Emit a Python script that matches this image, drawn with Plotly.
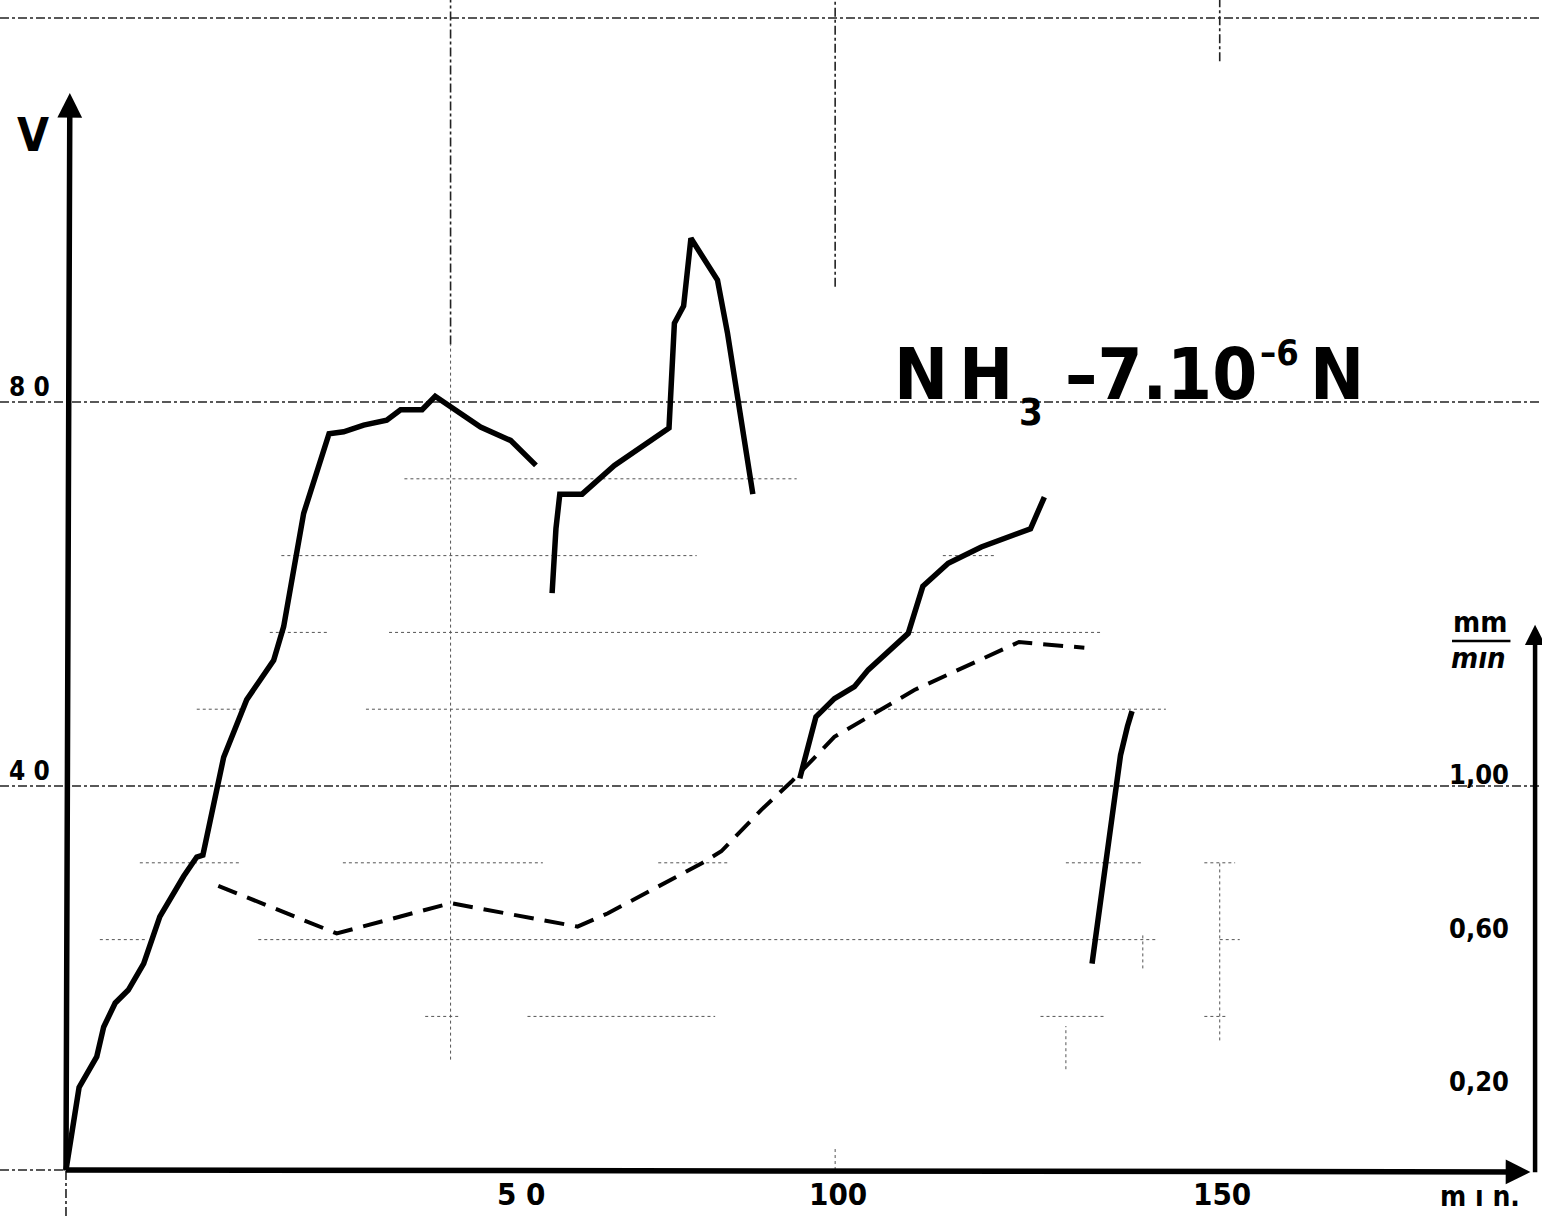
import plotly.graph_objects as go

# ---- measured series -------------------------------------------------------
# potential V (left scale) versus time in minutes, four separate solid runs
run1_t = [0, 1.7, 4.0, 4.9, 6.4, 8.1, 10.1, 12.2, 15.3, 17.0, 17.8, 20.1, 20.5,
          23.5, 27.0, 28.3, 29.6, 30.9, 34.2, 36.1, 38.7, 41.7, 43.5, 46.3,
          48.0, 53.9, 57.8, 61.1]
run1_v = [0, 8.6, 11.8, 14.9, 17.4, 18.75, 21.5, 26.4, 30.6, 32.6, 32.8, 41.9,
          43.0, 49.0, 53.1, 56.6, 62.8, 68.4, 76.7, 76.9, 77.6, 78.1, 79.2,
          79.2, 80.6, 77.4, 76.0, 73.4]

run2_t = [63.2, 63.7, 64.2, 67.1, 71.3, 74.7, 78.4, 79.1, 80.3, 81.25, 84.7,
          86.0, 89.3]
run2_v = [60.1, 66.8, 70.4, 70.4, 73.4, 75.2, 77.3, 88.2, 90.0, 97.05, 92.7,
          87.2, 70.4]

run3_t = [95.4, 97.5, 99.9, 102.5, 104.3, 109.5, 111.4, 114.7, 119.0, 125.4,
          127.2]
run3_v = [40.8, 47.2, 49.1, 50.35, 52.1, 55.9, 60.8, 63.2, 64.9, 66.8, 70.1]

run4_t = [133.4, 135.1, 137.1, 138.0, 138.6]
run4_v = [21.5, 31.9, 43.2, 46.2, 47.8]

# rate in mm/min (right scale), dashed curve
rate_t = [19.8, 35.2, 50.0, 66.5, 70.4, 76.5, 82.6, 85.2, 90.4, 94.3, 98.2,
          99.9, 110.3, 123.9, 132.4]
rate_v = [0.74, 0.616, 0.695, 0.634, 0.668, 0.733, 0.798, 0.83, 0.938, 1.011,
          1.09, 1.128, 1.25, 1.375, 1.36]

# tick labels
left_ticks = [80, 40]
left_tick_text = ["8 0", "4 0"]
bottom_ticks = [50, 100, 150]
bottom_tick_text = ["5 0", "100", "150"]
right_ticks = [1.00, 0.60, 0.20]
right_tick_text = ["1,00", "0,60", "0,20"]

# ---- scale layout ----------------------------------------------------------
X_RANGE = [-8.58, 191.9]
Y_RANGE = [-4.79, 121.875]
RATE_PER_V = 1 / 40.0          # 1 mm/min on the right scale == 40 V on the left
Y2_RANGE = [Y_RANGE[0] * RATE_PER_V, Y_RANGE[1] * RATE_PER_V]

FONT = "DejaVu Sans Condensed, Liberation Sans Narrow, DejaVu Sans, sans-serif"
INK = "#000000"

fig = go.Figure()

solid = dict(color=INK, width=5.5)
for t, v in [(run1_t, run1_v), (run2_t, run2_v), (run3_t, run3_v),
             (run4_t, run4_v)]:
    fig.add_trace(go.Scatter(x=t, y=v, mode="lines", line=solid,
                             line_shape="linear", showlegend=False,
                             hoverinfo="skip"))

fig.add_trace(go.Scatter(x=rate_t, y=rate_v, yaxis="y2", mode="lines",
                         line=dict(color=INK, width=4, dash="20px,11px"),
                         showlegend=False, hoverinfo="skip"))

# ---- grid: broken dotted rules as on the graph paper ------------------------
shapes = []
faint = dict(color="#555555", width=1, dash="dot")
mid = dict(color="#222222", width=1.6, dash="dashdot")

grid_h = [
    (120, X_RANGE[0], X_RANGE[1], mid),
    (80, X_RANGE[0], X_RANGE[1], mid),
    (40, X_RANGE[0], X_RANGE[1], mid),
    (0, X_RANGE[0], 0, mid),
    (72, 44, 95, faint),
    (64, 28, 82, faint), (64, 114, 121, faint),
    (56, 26.5, 34, faint), (56, 42, 134.5, faint),
    (48, 17, 23, faint), (48, 39, 143, faint),
    (32, 9.6, 22.6, faint), (32, 36, 62, faint), (32, 77, 86, faint),
    (32, 130, 140, faint), (32, 148, 152, faint),
    (24, 4.4, 10.3, faint), (24, 25, 142, faint), (24, 150, 152.6, faint),
    (16, 46.7, 51, faint), (16, 60, 84.4, faint), (16, 126.7, 135, faint),
    (16, 148, 151, faint),
]
for yv, x0, x1, st in grid_h:
    shapes.append(dict(type="line", xref="x", yref="y", x0=x0, x1=x1,
                       y0=yv, y1=yv, line=st, layer="below"))

grid_v = [
    (0, Y_RANGE[0], 0, mid),
    (50, 86, Y_RANGE[1], mid), (50, 11.5, 86, faint),
    (100, 92, Y_RANGE[1], mid), (100, 0, 2.5, faint),
    (150, 115.5, Y_RANGE[1], mid), (150, 13.5, 32, faint),
    (130, 10.5, 15, faint), (140, 21, 24.5, faint),
]
for xv, y0, y1, st in grid_v:
    shapes.append(dict(type="line", xref="x", yref="y", x0=xv, x1=xv,
                       y0=y0, y1=y1, line=st, layer="below"))

# fraction bar of the mm/min unit
shapes.append(dict(type="line", xref="x", yref="y", x0=180.2, x1=187.8,
                   y0=55.1, y1=55.1, line=dict(color=INK, width=2.5)))

# ---- axes drawn as arrows --------------------------------------------------
annotations = []


def arrow(x_tip, y_tip, x_tail, y_tail, width):
    annotations.append(dict(x=x_tip, y=y_tip, ax=x_tail, ay=y_tail,
                            xref="x", yref="y", axref="x", ayref="y",
                            text="", showarrow=True, arrowhead=2,
                            arrowsize=0.9, arrowwidth=width,
                            arrowcolor=INK, standoff=0, startstandoff=0))


arrow(0.5, 112.2, 0, -0.2, 5.5)       # V axis
arrow(190.4, -0.2, -0.2, 0, 5.5)      # time axis
arrow(191.0, 56.8, 191.0, -0.4, 4.5)  # mm/min axis


def label(x, y, text, size, bold=False, italic=False, yref="y"):
    annotations.append(dict(
        x=x, y=y, xref="x", yref=yref, text=text, showarrow=False,
        xanchor="center", yanchor="middle",
        font=dict(family=FONT, size=size, color=INK,
                  weight="bold" if bold else "normal",
                  style="italic" if italic else "normal")))


# left scale
label(-4.3, 107.8, "V", 46, bold=True)
for v, txt in zip(left_ticks, left_tick_text):
    label(-4.8, v + 1.6, txt, 26, bold=True)

# bottom scale
bottom_pos = {50: 59.2, 100: 100.4, 150: 150.3}
for v, txt in zip(bottom_ticks, bottom_tick_text):
    label(bottom_pos[v], -2.5, txt, 31, bold=True)
label(183.9, -2.8, "m ı n.", 28, bold=True)

# right scale
for v, txt in zip(right_ticks, right_tick_text):
    label(183.7, v + 0.03, txt, 27, bold=True, yref="y2")
label(183.9, 57.1, "mm", 29, bold=True)
label(183.6, 53.3, "mın", 29, bold=True, italic=True)

# solution label  NH3 - 7.10^-6 N
label(111.2, 82.9, "N", 72, bold=True)
label(119.6, 82.9, "H", 72, bold=True)
label(125.4, 79.0, "3", 38, bold=True)
label(142.4, 82.9, "–7.10", 72, bold=True)
label(157.8, 85.2, "–6", 36, bold=True)
label(165.3, 82.9, "N", 72, bold=True)

fig.update_layout(
    width=1542, height=1216,
    margin=dict(l=0, r=0, t=0, b=0),
    paper_bgcolor="white", plot_bgcolor="white",
    xaxis=dict(range=X_RANGE, visible=False, fixedrange=True),
    yaxis=dict(range=Y_RANGE, visible=False, fixedrange=True),
    yaxis2=dict(range=Y2_RANGE, visible=False, overlaying="y",
                fixedrange=True),
    shapes=shapes,
    annotations=annotations,
    showlegend=False,
)

fig.write_html("out.html", config={"displayModeBar": False})
